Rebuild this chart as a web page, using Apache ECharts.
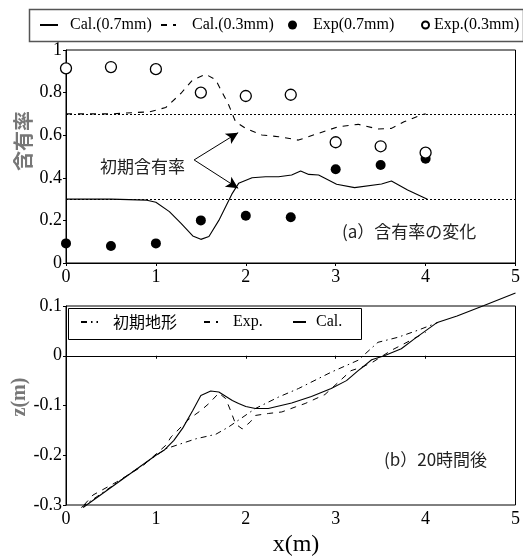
<!DOCTYPE html>
<html>
<head>
<meta charset="utf-8">
<script src="https://cdn.jsdelivr.net/npm/echarts@6/dist/echarts.min.js"></script>
<style>
html,body{margin:0;padding:0;background:#fff;}
#chart{width:523px;height:559px;}
</style>
</head>
<body>
<div id="chart"></div>
<script>
// ---- Data (a) content ratio ----
var expX = [0, 0.5, 1, 1.5, 2, 2.5, 3, 3.5, 4];
var exp07 = [0.092, 0.08, 0.092, 0.20, 0.222, 0.215, 0.44, 0.46, 0.49];
var exp03 = [0.914, 0.92, 0.91, 0.80, 0.784, 0.79, 0.567, 0.548, 0.518];

var cal07X = [0, 0.5, 0.9, 1.0, 1.15, 1.28, 1.41, 1.5, 1.59, 1.70, 1.85, 1.92, 2.07, 2.22, 2.365, 2.51, 2.61, 2.70, 2.81, 3.01, 3.21, 3.51, 3.62, 3.80, 4.02];
var cal07Y = [0.30, 0.30, 0.295, 0.285, 0.241, 0.186, 0.127, 0.111, 0.124, 0.20, 0.327, 0.374, 0.40, 0.405, 0.405, 0.413, 0.432, 0.416, 0.413, 0.37, 0.354, 0.371, 0.385, 0.343, 0.299];

var cal03X = [0, 0.5, 0.93, 1.11, 1.28, 1.41, 1.555, 1.665, 1.81, 1.886, 2.0, 2.18, 2.365, 2.585, 2.81, 3.03, 3.25, 3.47, 3.62, 3.76, 3.95, 4.0];
var cal03Y = [0.70, 0.70, 0.71, 0.73, 0.797, 0.86, 0.886, 0.86, 0.742, 0.663, 0.632, 0.601, 0.593, 0.577, 0.609, 0.64, 0.651, 0.629, 0.632, 0.663, 0.695, 0.70];

var initialRatio = [0.7, 0.3];
var arrowFrom = [1.425, 0.484];
var arrowTo = [[1.915, 0.612], [1.915, 0.351]];

// ---- Data (b) bed profile after 20 h ----
var initX = [0.17, 1.11, 1.444, 1.665, 1.81, 2.107, 2.365, 2.585, 2.95, 3.25, 3.47, 3.69, 3.91, 4.14];
var initY = [-0.305, -0.187, -0.167, -0.158, -0.143, -0.106, -0.083, -0.066, -0.033, -0.009, 0.027, 0.037, 0.051, 0.067];

var expBX = [0.2, 0.3, 0.56, 0.85, 1.11, 1.17, 1.37, 1.50, 1.59, 1.70, 1.776, 1.83, 1.886, 1.96, 2.05, 2.107, 2.254, 2.40, 2.55, 2.66, 2.88, 2.94, 3.17, 3.29, 3.41, 3.62, 3.76, 4.0];
var expBY = [-0.3, -0.28, -0.254, -0.222, -0.18, -0.163, -0.127, -0.11, -0.096, -0.075, -0.086, -0.11, -0.137, -0.147, -0.133, -0.12, -0.116, -0.113, -0.103, -0.096, -0.078, -0.068, -0.03, -0.023, -0.013, 0.011, 0.024, 0.047];

var calBX = [0.19, 1.0, 1.09, 1.2, 1.3, 1.41, 1.5, 1.61, 1.70, 1.85, 1.92, 2.0, 2.107, 2.25, 2.51, 2.73, 2.95, 3.12, 3.25, 3.32, 3.40, 3.54, 3.73, 3.875, 4.13, 4.35, 4.65, 5.0];
var calBY = [-0.305, -0.2, -0.19, -0.17, -0.145, -0.11, -0.08, -0.071, -0.073, -0.09, -0.096, -0.102, -0.106, -0.106, -0.095, -0.082, -0.066, -0.05, -0.03, -0.02, -0.008, 0.0, 0.014, 0.034, 0.067, 0.08, 0.101, 0.126];
var zeroLevel = 0;

// tick settings
var xTicks = {min: 0, max: 5, interval: 1};
var yTopTicks = {min: 0, max: 1, interval: 0.2};
var yBotTicks = {min: -0.3, max: 0.1, interval: 0.1};

function pairs(xs, ys) { return xs.map(function (x, i) { return [x, ys[i]]; }); }

var SERIF = 'Liberation Serif';
var CJK = 'Noto Sans CJK JP';

var chart = echarts.init(document.getElementById('chart'), null, {renderer: 'canvas'});

function xAxisCfg(gi) {
  return {
    type: 'value', gridIndex: gi, min: xTicks.min, max: xTicks.max, interval: xTicks.interval,
    axisLine: {show: true, lineStyle: {color: '#000', width: 1}},
    axisTick: {show: true, inside: false, length: 3, lineStyle: {color: '#000'}},
    axisLabel: {color: '#000', fontFamily: SERIF, fontSize: 18, margin: 5},
    splitLine: {show: false}
  };
}
function yAxisCfg(gi, t) {
  return {
    type: 'value', gridIndex: gi, min: t.min, max: t.max, interval: t.interval,
    axisLine: {show: true, onZero: false, lineStyle: {color: '#000', width: 1}},
    axisTick: {show: true, inside: false, length: 3, lineStyle: {color: '#000'}},
    axisLabel: {color: '#000', fontFamily: SERIF, fontSize: 18, margin: 4},
    splitLine: {show: false}
  };
}

function legendOne(name, left, top, w, h, padLeft, font, isLine) {
  var lg = {
    data: [name], left: left, top: top, padding: 0, itemWidth: w, itemHeight: h,
    selectedMode: false,
    textStyle: {color: '#000', fontFamily: font || SERIF, fontSize: 16, lineHeight: 18, padding: [0, 0, 0, padLeft]}
  };
  if (isLine) lg.itemStyle = {opacity: 0, color: 'transparent', borderWidth: 0};
  return lg;
}

function label(text, x, y, size, family, color, weight, rot, align) {
  return {
    type: 'text', x: x, y: y, rotation: rot || 0, z: 10,
    style: {text: text, fill: color, fontSize: size, fontFamily: family, fontWeight: weight || 'normal',
      align: align || 'left', verticalAlign: 'middle'}
  };
}

var option = {
  animation: false,
  backgroundColor: '#fff',
  grid: [
    {left: 66, top: 50, width: 452, height: 213, show: true, borderColor: '#000', borderWidth: 1, backgroundColor: 'transparent'},
    {left: 66, top: 306, width: 452, height: 199, show: true, borderColor: '#000', borderWidth: 1, backgroundColor: 'transparent'}
  ],
  xAxis: [xAxisCfg(0), xAxisCfg(1)],
  yAxis: [yAxisCfg(0, yTopTicks), yAxisCfg(1, yBotTicks)],
  legend: [
    legendOne('Cal.(0.7mm)', 39, 16, 18, 10, 7, null, true),
    legendOne('Cal.(0.3mm)', 160, 16, 15, 10, 11, null, true),
    legendOne('Exp(0.7mm)', 288, 16, 9, 9, 11),
    legendOne('Exp.(0.3mm)', 421, 16, 7, 7, 0),
    legendOne('初期地形', 80, 313, 17, 10, 10, CJK, true),
    legendOne('Exp.', 203, 313, 14, 10, 10, null, true),
    legendOne('Cal.', 292, 313, 13, 10, 5, null, true)
  ],
  graphic: [
    {type: 'rect', left: 27, top: 7, shape: {width: 494, height: 32}, style: {fill: 'none', stroke: '#555', lineWidth: 1.5}, z: 1},
    {type: 'rect', left: 66, top: 306, shape: {width: 293, height: 31}, style: {fill: 'none', stroke: '#000', lineWidth: 1}, z: 1},
    label('含有率', 23, 141, 20, CJK, '#777', 'bold', Math.PI / 2, 'center'),
    label('z(m)', 20, 397, 20, SERIF, '#777', 'bold', Math.PI / 2, 'center'),
    label('x(m)', 296, 545, 24, SERIF, '#000', 'normal', 0, 'center'),
    label('初期含有率', 100, 167, 17, CJK, '#222'),
    label('(a）含有率の変化', 342, 232, 17, CJK, '#222'),
    label('(b）20時間後', 384, 460, 17, CJK, '#222')
  ],
  series: [
    {
      name: 'Cal.(0.7mm)', type: 'line', xAxisIndex: 0, yAxisIndex: 0,
      data: pairs(cal07X, cal07Y), symbol: 'none', color: '#000',
      lineStyle: {color: '#000', width: 1.1, type: 'solid'},
      markLine: {
        silent: true, symbol: ['none', 'none'], label: {show: false},
        lineStyle: {color: '#000', width: 1, type: [2, 2]},
        data: initialRatio.map(function (v) { return {yAxis: v}; })
      }
    },
    {
      name: 'Cal.(0.3mm)', type: 'line', xAxisIndex: 0, yAxisIndex: 0,
      data: pairs(cal03X, cal03Y), symbol: 'none', color: '#000',
      lineStyle: {color: '#000', width: 1.1, type: [6, 6]},
      markLine: {
        silent: true, symbol: ['none', 'arrow'], symbolSize: [9, 12], label: {show: false},
        lineStyle: {color: '#000', width: 1, type: 'solid'},
        data: arrowTo.map(function (p) { return [{coord: arrowFrom}, {coord: p}]; })
      }
    },
    {
      name: 'Exp(0.7mm)', type: 'scatter', xAxisIndex: 0, yAxisIndex: 0,
      data: pairs(expX, exp07), symbol: 'circle', symbolSize: 10,
      itemStyle: {color: '#000', opacity: 1}
    },
    {
      name: 'Exp.(0.3mm)', type: 'scatter', xAxisIndex: 0, yAxisIndex: 0,
      data: pairs(expX, exp03), symbol: 'circle', symbolSize: 11,
      itemStyle: {color: '#fff', borderColor: '#000', borderWidth: 1.3, opacity: 1}
    },
    {
      name: '初期地形', type: 'line', xAxisIndex: 1, yAxisIndex: 1, clip: false,
      data: pairs(initX, initY), symbol: 'none', color: '#000',
      lineStyle: {color: '#000', width: 1, type: [6, 4, 1.5, 4]}
    },
    {
      name: 'Exp.', type: 'line', xAxisIndex: 1, yAxisIndex: 1, clip: false,
      data: pairs(expBX, expBY), symbol: 'none', color: '#000',
      lineStyle: {color: '#000', width: 1, type: [6, 6]}
    },
    {
      name: 'Cal.', type: 'line', xAxisIndex: 1, yAxisIndex: 1, clip: false,
      data: pairs(calBX, calBY), symbol: 'none', color: '#000',
      lineStyle: {color: '#000', width: 1.1, type: 'solid'},
      markLine: {
        silent: true, symbol: ['none', 'none'], label: {show: false},
        lineStyle: {color: '#000', width: 1, type: 'solid'},
        data: [{yAxis: zeroLevel}]
      }
    }
  ]
};
chart.setOption(option);
</script>
</body>
</html>
